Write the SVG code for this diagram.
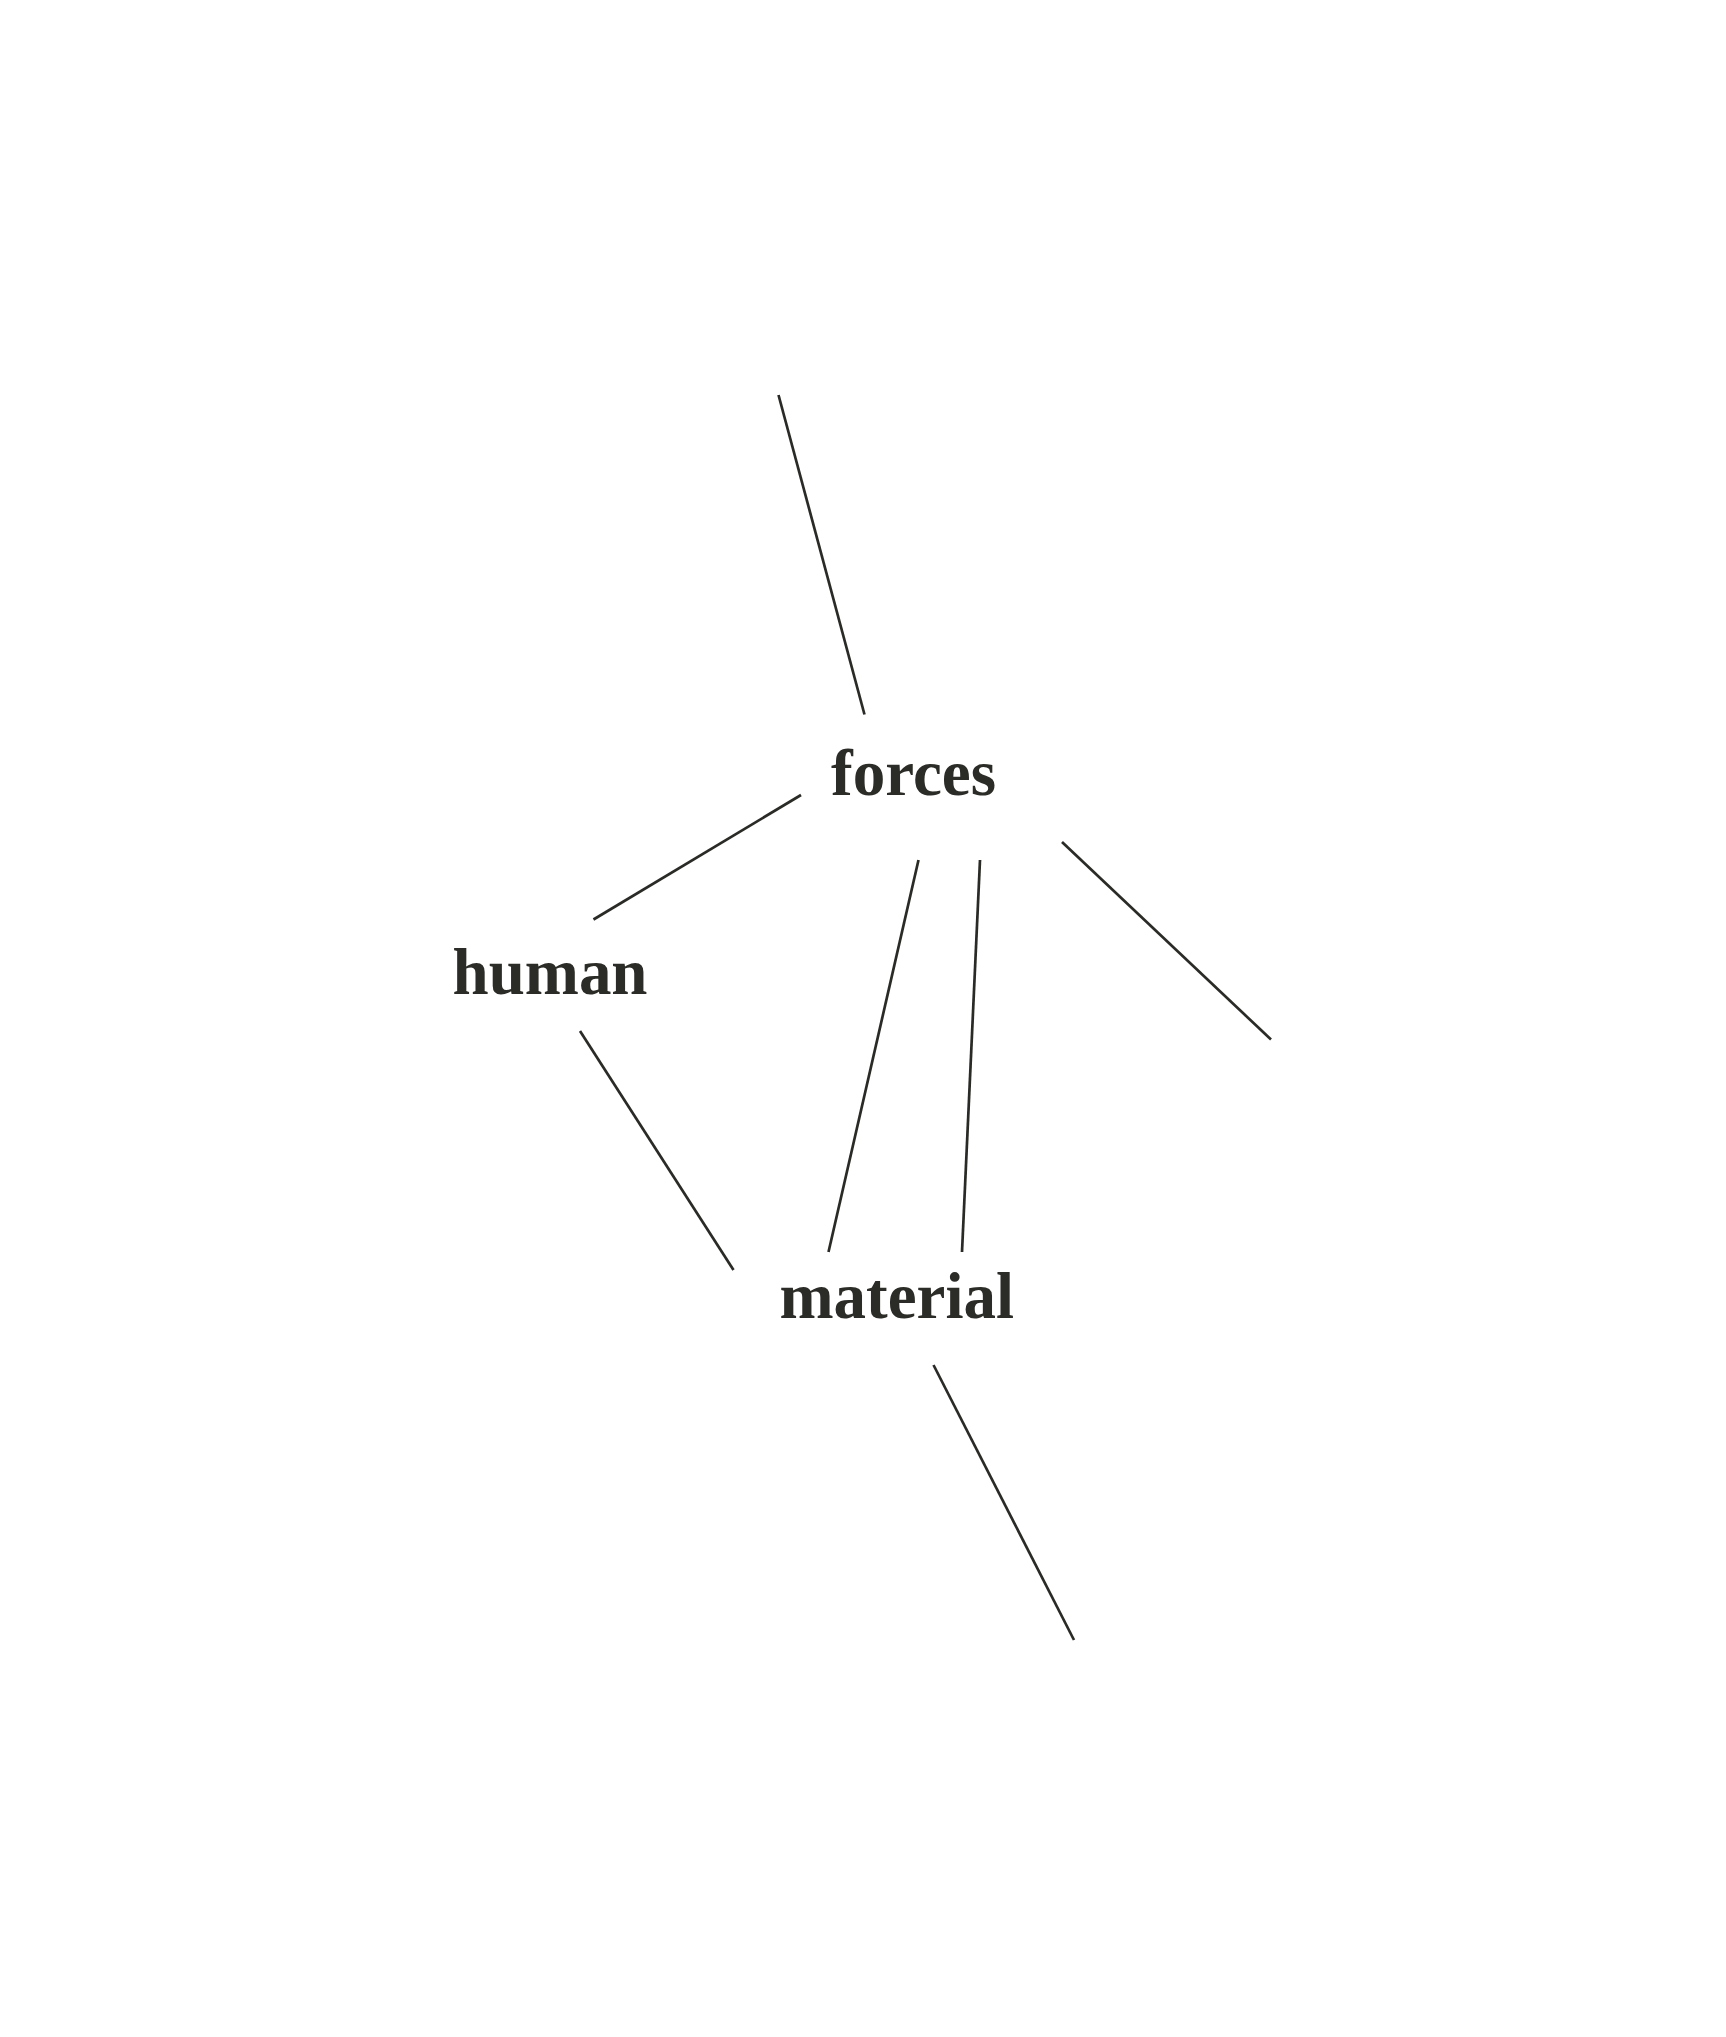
<svg xmlns="http://www.w3.org/2000/svg" width="1726" height="2037" viewBox="0 0 1726 2037">
<style>
.lbl{font-family:"Liberation Serif","Times New Roman",serif;font-weight:bold;font-size:66px;fill:#2b2b27}
.edge{stroke:#2a2a26;stroke-width:2.7;fill:none}
</style>
<rect width="1726" height="2037" fill="#ffffff"/>
<g id="connectors">
<line class="edge" x1="778.5" y1="395" x2="864.5" y2="714.5"/>
<line class="edge" x1="801" y1="795" x2="593.5" y2="919.5"/>
<line class="edge" x1="1062" y1="842" x2="1271" y2="1039.5"/>
<line class="edge" x1="918.5" y1="860" x2="828.5" y2="1252"/>
<line class="edge" x1="980" y1="860" x2="962" y2="1252"/>
<line class="edge" x1="580" y1="1031" x2="733.5" y2="1270"/>
<line class="edge" x1="933.5" y1="1365" x2="1074" y2="1640"/>
</g>
<g id="node-forces"><text class="lbl" x="831" y="795" textLength="165" lengthAdjust="spacingAndGlyphs">forces</text></g>
<g id="node-human"><text class="lbl" x="452.5" y="994" textLength="195" lengthAdjust="spacingAndGlyphs">human</text></g>
<g id="node-material"><text class="lbl" x="779.5" y="1318" textLength="234.5" lengthAdjust="spacingAndGlyphs">material</text></g>
</svg>
